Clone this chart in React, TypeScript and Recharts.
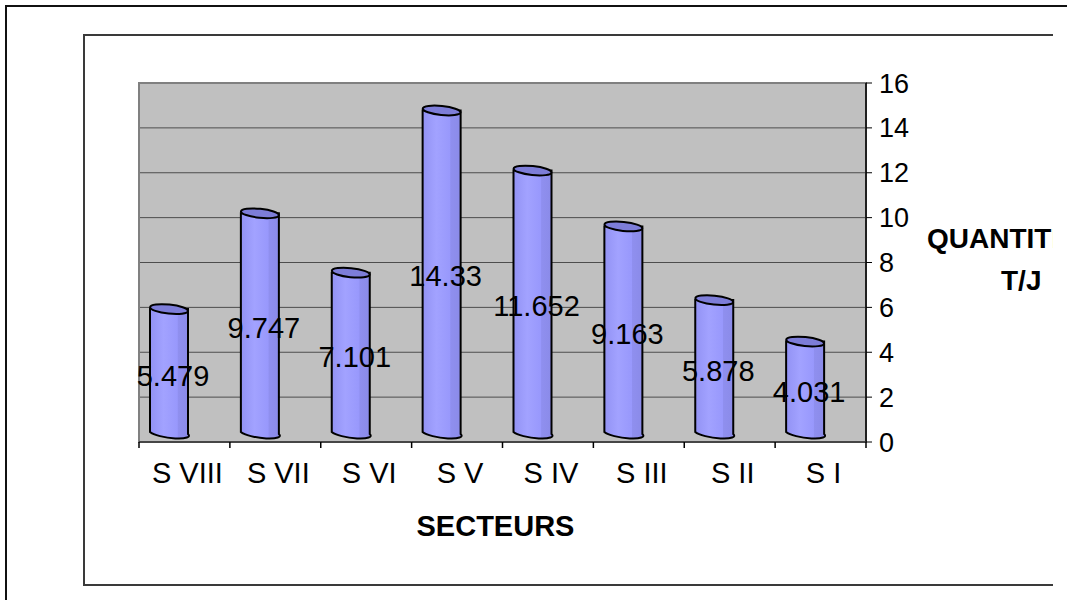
import { Bar, BarChart, CartesianGrid, LabelList, ReferenceArea, XAxis, YAxis } from 'recharts';

const sectors = ['S VIII', 'S VII', 'S VI', 'S V', 'S IV', 'S III', 'S II', 'S I'];
const quantities = [5.479, 9.747, 7.101, 14.33, 11.652, 9.163, 5.878, 4.031];
const yTicks = [0, 2, 4, 6, 8, 10, 12, 14, 16];

const data = sectors.map((sector, i) => ({ sector, value: quantities[i] }));

const FONT = '"Liberation Sans", Arial, sans-serif';
const TICK_GAP = 20;

function Cylinder(props: any) {
  const x = Number(props.x);
  const y = Number(props.y);
  const width = Number(props.width);
  const height = Number(props.height);
  if (!height) return null;
  // fake 3d: pushed back and lifted off the floor
  const left = x - 15;
  const right = left + width;
  const top = y - 10;
  const bottom = y + height - 10;
  const rx = width / 2;
  const ry = 4.5;
  const cx = left + rx;
  return (
    <g>
      <defs>
        <linearGradient id="cylFill" x1="0" y1="0" x2="1" y2="0">
          <stop offset="0%" stopColor="#9292f4" />
          <stop offset="35%" stopColor="#a2a2ff" />
          <stop offset="70%" stopColor="#9898fc" />
          <stop offset="72%" stopColor="#8f8fef" />
          <stop offset="100%" stopColor="#8a8ae8" />
        </linearGradient>
      </defs>
      <path
        d={`M${left},${top} L${left},${bottom} A${rx},${ry} 8 0 0 ${right},${bottom + 2} L${right},${top} Z`}
        fill="url(#cylFill)"
        stroke="#000"
        strokeWidth={2}
      />
      <ellipse
        cx={cx}
        cy={top}
        rx={rx}
        ry={ry}
        transform={`rotate(6 ${cx} ${top})`}
        fill="#7d7dd8"
        stroke="#000"
        strokeWidth={2}
      />
    </g>
  );
}

// category label + tick marks on the category boundaries (excel style)
const SectorTick = (p: any) => {
  const x = Number(p.x);
  const y = Number(p.y);
  const half = Number(p.payload?.offset) || 0;
  const axisY = y - TICK_GAP;
  const last = p.index === p.visibleTicksCount - 1;
  return (
    <g>
      <line x1={x - half} x2={x + half} y1={axisY} y2={axisY} stroke="#333" strokeWidth={1.5} />
      <line x1={x - half} x2={x - half} y1={axisY} y2={axisY + 6} stroke="#000" strokeWidth={1.5} />
      {last && <line x1={x + half} x2={x + half} y1={axisY} y2={axisY + 6} stroke="#000" strokeWidth={1.5} />}
      <text x={x + 3} y={y} dy="0.71em" textAnchor="middle" fontSize={29} fontFamily={FONT} fill="#000">
        {p.payload?.value}
      </text>
    </g>
  );
};

const renderValue = (p: any) => {
  const cx = Number(p.x) + Number(p.width) / 2 - 11;
  const cy = Number(p.y) + Number(p.height) / 2 - 5;
  return (
    <text x={cx} y={cy + 10} textAnchor="middle" fontSize={29} fontFamily={FONT} fill="#000">
      {p.value}
    </text>
  );
};

const renderXTitle = (p: any) => {
  const vb = p.viewBox;
  return (
    <text x={vb.x + vb.width / 2 - 7} y={vb.y + 94} textAnchor="middle" fontSize={29} fontWeight="bold" fontFamily={FONT} fill="#000">
      SECTEURS
    </text>
  );
};

const renderYTitle = (p: any) => {
  const vb = p.viewBox;
  return (
    <g fontSize={28} fontWeight="bold" fontFamily={FONT} fill="#000">
      <text x={vb.x + 61} y={vb.y + 165}>QUANTITE</text>
      <text x={vb.x + 135} y={vb.y + 207}>T/J</text>
    </g>
  );
};

export default function App() {
  return (
    <div style={{ position: 'absolute', left: 0, top: 0, width: 1067, height: 600, overflow: 'hidden', background: '#fff', fontFamily: FONT }}>
      <div style={{ position: 'absolute', left: 5, top: 5, width: 1200, height: 700, border: '2px solid #111' }} />
      <div
        style={{
          position: 'absolute',
          left: 83,
          top: 34,
          width: 968,
          height: 548,
          borderTop: '2px solid #3a3a3a',
          borderLeft: '2px solid #3a3a3a',
          borderBottom: '2px solid #3a3a3a',
          overflow: 'hidden',
        }}
      >
        <div style={{ position: 'absolute', left: -85, top: -36 }}>
          <BarChart width={1067} height={600} data={data} margin={{ top: 83, right: 141, bottom: 108, left: 139 }} barSize={38}>
            <CartesianGrid vertical={false} stroke="#4d4d4d" fill="#c0c0c0" fillOpacity={1} />
            <ReferenceArea y1={0} y2={16} fill="none" stroke="#808080" strokeWidth={2} />
            <XAxis
              dataKey="sector"
              height={50}
              axisLine={false}
              tickLine={false}
              tickSize={0}
              tickMargin={TICK_GAP}
              interval={0}
              tick={SectorTick}
              label={{ value: 'SECTEURS', content: renderXTitle }}
            />
            <YAxis
              orientation="right"
              width={60}
              domain={[0, 16]}
              ticks={yTicks}
              tickSize={6}
              tickMargin={7}
              axisLine={{ stroke: '#000', strokeWidth: 1.5 }}
              tickLine={{ stroke: '#000' }}
              tick={{ fontSize: 27, fill: '#000', fontFamily: FONT }}
              label={{ value: 'QUANTITE T/J', content: renderYTitle }}
            />
            <Bar dataKey="value" shape={Cylinder} isAnimationActive={false}>
              <LabelList dataKey="value" content={renderValue} />
            </Bar>
          </BarChart>
        </div>
      </div>
    </div>
  );
}
